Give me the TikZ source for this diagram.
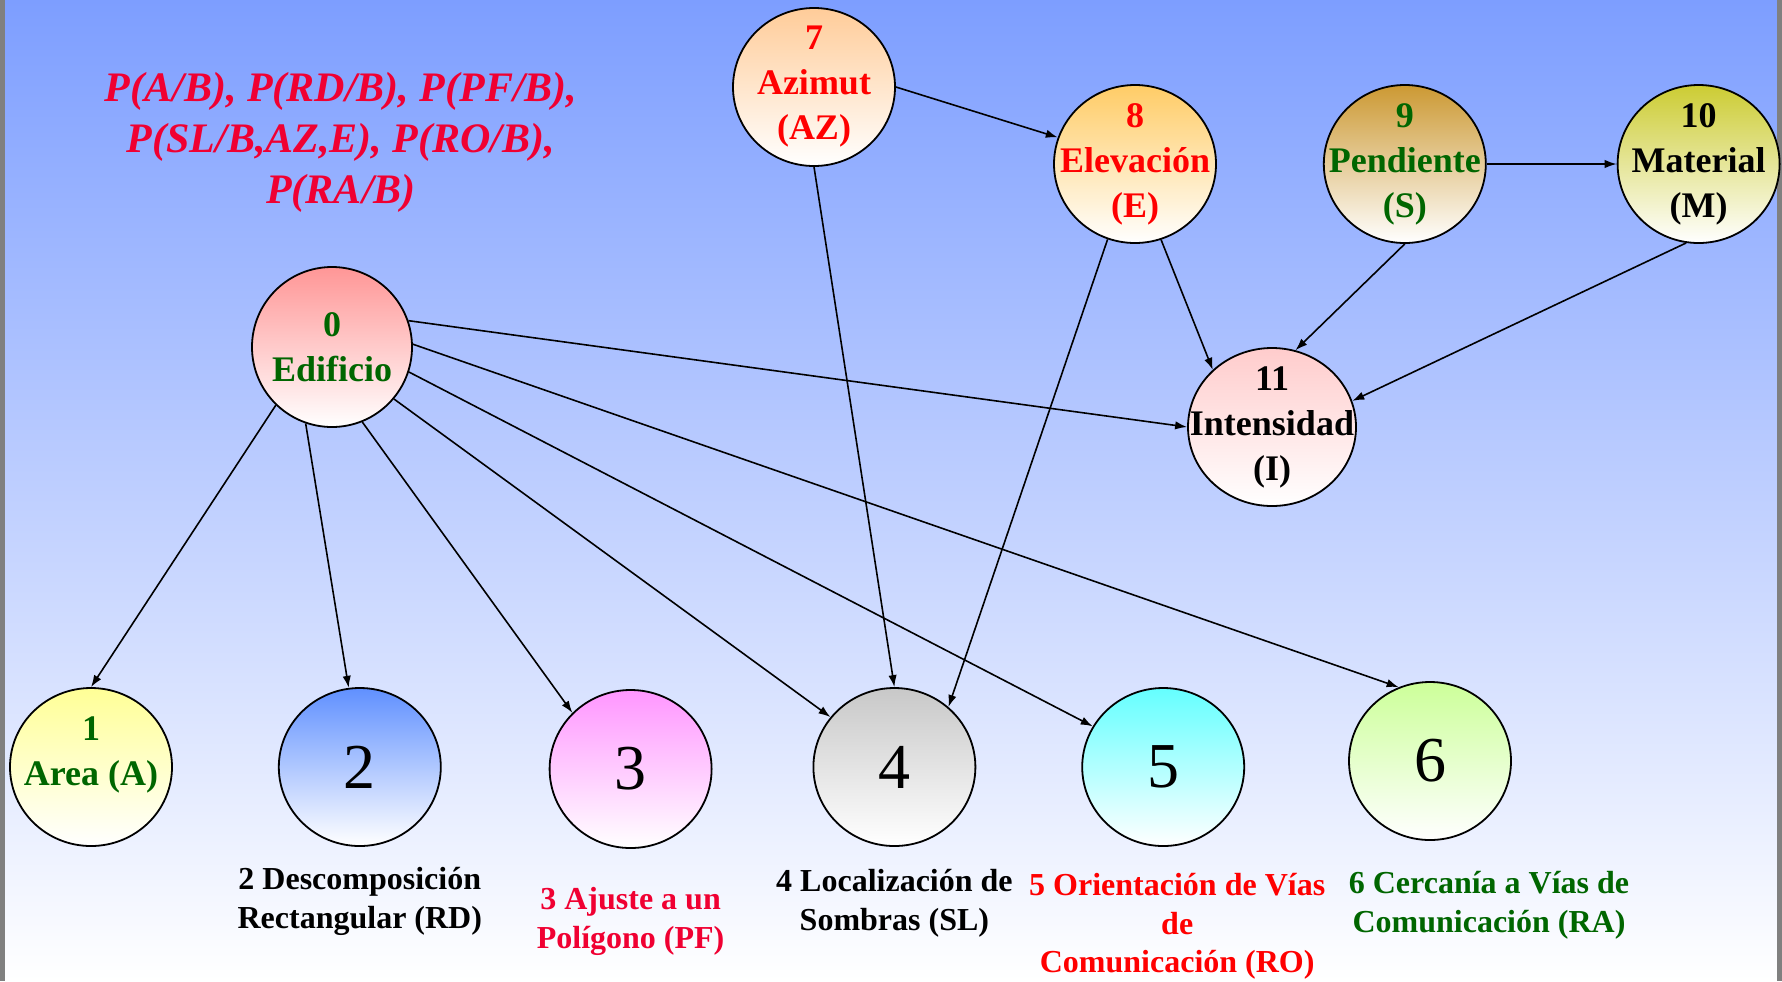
\documentclass[tikz,border=0pt]{standalone}
\usepackage{fontspec}
\setmainfont{Liberation Serif}
\usetikzlibrary{positioning, arrows.meta, shapes.geometric}

\definecolor{bgtop}{RGB}{125,158,255}
\definecolor{txtred}{RGB}{255,0,0}
\definecolor{txtcrimson}{RGB}{240,0,50}
\definecolor{txtgreen}{RGB}{0,102,0}
\definecolor{edgegray}{RGB}{128,128,128}
\definecolor{c0}{RGB}{255,150,150}
\definecolor{c1}{RGB}{255,255,150}
\definecolor{c2}{RGB}{96,144,255}
\definecolor{c3}{RGB}{255,150,255}
\definecolor{c4}{RGB}{200,200,200}
\definecolor{c5}{RGB}{100,255,255}
\definecolor{c6}{RGB}{204,255,153}
\definecolor{c7}{RGB}{255,204,153}
\definecolor{c8}{RGB}{255,204,102}
\definecolor{c9}{RGB}{204,153,51}
\definecolor{c10}{RGB}{204,204,51}
\definecolor{c11}{RGB}{255,204,204}

\begin{document}
\begin{tikzpicture}[x=0.5pt, y=-0.5pt,
		var/.style={draw, ellipse, line width=0.9pt, minimum width=81pt, minimum height=79pt, inner sep=0pt, bottom color=white},
		vtext/.style={font=\fontsize{18}{22.5}\selectfont\bfseries, align=center, inner sep=0pt},
		big/.style={font=\fontsize{32}{32}\selectfont, inner sep=0pt},
		caption/.style={font=\fontsize{16}{19.3}\selectfont\bfseries, align=center, inner sep=0pt},
		link/.style={-{Latex[length=6pt, width=4.2pt]}, line width=0.8pt},
	]
	% background and side bars
	\useasboundingbox (0,0) rectangle (1782,981);
	\shade[top color=bgtop, bottom color=white] (0,0) rectangle (1782,981);
	\fill[edgegray] (0,0) rectangle (5,981);
	\fill[edgegray] (1777,0) rectangle (1782,981);

	% probabilities
	\node[font=\fontsize{21}{25.5}\selectfont\bfseries\itshape, text=txtcrimson, align=center] (probs) at (341,142)
		{P(A/B), P(RD/B), P(PF/B),\\ P(SL/B,AZ,E), P(RO/B),\\ P(RA/B)};

	% upper variables
	\node[var, top color=c0, minimum width=80pt, minimum height=80pt,
		label={[vtext, text=txtgreen]center:{0\\Edificio}}] (n0) at (332,347) {};
	\node[var, top color=c7, label={[vtext, text=txtred]center:{7\\Azimut\\(AZ)}}] (n7) at (814,87) {};
	\node[var, top color=c8, label={[vtext, text=txtred]center:{8\\Elevación\\(E)}}] (n8) at (1135,164) {};
	\node[var, top color=c9, right=53pt of n8, label={[vtext, text=txtgreen]center:{9\\Pendiente\\(S)}}] (n9) {};
	\node[var, top color=c10, right=65pt of n9, label={[vtext]center:{10\\Material\\(M)}}] (n10) {};
	\node[var, top color=c11, minimum width=84pt, label={[vtext]center:{11\\Intensidad\\(I)}}] (n11) at (1272,427) {};

	% lower variables
	\node[var, top color=c1, label={[vtext, text=txtgreen, yshift=6pt]center:{1\\Area (A)}}] (n1) at (91,767) {};
	\node[var, top color=c2, right=52.5pt of n1, label={[big]center:2}] (n2) {};
	\node[var, top color=c3, right=53.5pt of n2, yshift=-1pt, label={[big]center:3}] (n3) {};
	\node[var, top color=c4, right=50pt of n3, yshift=1pt, label={[big]center:4}] (n4) {};
	\node[var, top color=c5, right=52.5pt of n4, label={[big]center:5}] (n5) {};
	\node[var, top color=c6, right=51.5pt of n5, yshift=3pt, label={[big]center:6}] (n6) {};

	% captions
	\node[caption, below=10pt of n2] (cap2) {2 Descomposición\\Rectangular (RD)};
	\node[caption, text=txtcrimson, below=19pt of n3] (cap3) {3 Ajuste a un\\Polígono (PF)};
	\node[caption, below=11pt of n4] (cap4) {4 Localización de\\Sombras (SL)};
	\node[caption, text=txtred, below=13pt of n5, xshift=7pt] (cap5) {5 Orientación de Vías\\de\\Comunicación (RO)};
	\node[caption, text=txtgreen, below=15pt of n6, xshift=29.5pt] (cap6) {6 Cercanía a Vías de\\Comunicación (RA)};

	% arcs
	\draw[link] (n0.226) -- (n1.north);
	\draw[link] (n0.251) -- (n2.98);
	\draw[link] (n0.292) -- (n3.136);
	\draw[link] (n0.320) -- (n4.142);
	\draw[link] (n0.342) -- (n5.150);
	\draw[link] (n0.2) -- (n6.113);
	\draw[link] (n0.19) -- (n11.west);
	\draw[link] (n7.south) -- (n4.north);
	\draw[link] (n7.east) -- (n8.161);
	\draw[link] (n8.250) -- (n4.48);
	\draw[link] (n8.289) -- (n11.136);
	\draw[link] (n9.east) -- (n10.west);
	\draw[link] (n9.south) -- (n11.73);
	\draw[link] (n10.261) -- (n11.18);
\end{tikzpicture}
\end{document}
